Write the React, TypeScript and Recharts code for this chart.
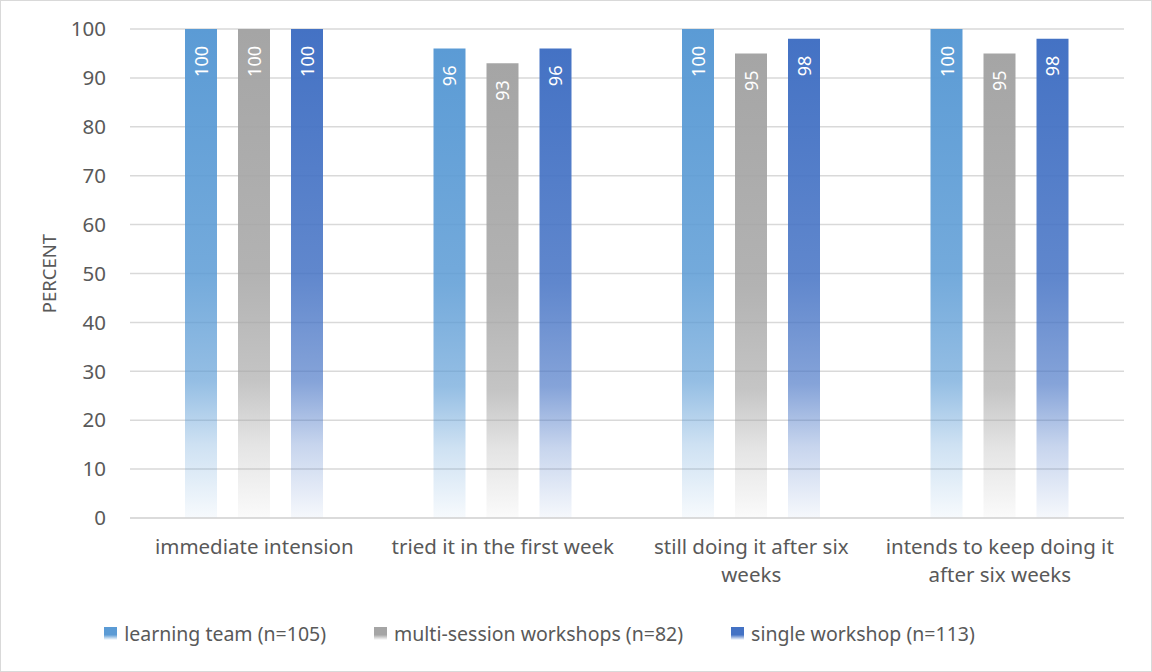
import React from 'react';
import { BarChart, Bar, XAxis, YAxis, CartesianGrid, Legend, LabelList } from 'recharts';

// --- Data ---
const categories = [
  'immediate intension',
  'tried it in the first week',
  'still doing it after six weeks',
  'intends to keep doing it after six weeks',
];
const learningTeam = [100, 96, 100, 100];
const multiSession = [100, 93, 95, 95];
const singleWorkshop = [100, 96, 98, 98];
const yTicks = [0, 10, 20, 30, 40, 50, 60, 70, 80, 90, 100];

const SERIES = [
  { key: 'learning', name: 'learning team (n=105)', color: '#5B9BD5' },
  { key: 'multi', name: 'multi-session workshops (n=82)', color: '#A5A5A5' },
  { key: 'single', name: 'single workshop (n=113)', color: '#4472C4' },
];

const data = categories.map((name, i) => ({
  name,
  learning: learningTeam[i],
  multi: multiSession[i],
  single: singleWorkshop[i],
}));

const FONT = '"Noto Sans", "Open Sans", sans-serif';
const TEXT_COLOR = '#595959';
const MAX_CHARS = 26;

// word wrap by character count
const wrapLabel = (label: string) => {
  const lines: string[] = [];
  let cur = '';
  label.split(' ').forEach((w) => {
    const next = cur ? `${cur} ${w}` : w;
    if (next.length > MAX_CHARS && cur) {
      lines.push(cur);
      cur = w;
    } else {
      cur = next;
    }
  });
  if (cur) lines.push(cur);
  return lines;
};

const BarLabel = (props: any) => {
  const { x, y, width, value } = props;
  const cx = x + width / 2;
  const ty = y + 17;
  return (
    <text
      x={cx}
      y={ty}
      transform={`rotate(-90 ${cx} ${ty})`}
      textAnchor="end"
      dominantBaseline="central"
      fill="#ffffff"
      fontSize={18}
      fontFamily={FONT}
    >
      {value}
    </text>
  );
};

const CategoryTick = (props: any) => {
  const { x, y, payload } = props;
  const lines = wrapLabel(payload.value);
  return (
    <text x={x} y={y} textAnchor="middle" fill={TEXT_COLOR} fontSize={20.5} fontFamily={FONT}>
      {lines.map((l, i) => (
        <tspan key={i} x={x} dy={i === 0 ? '0.71em' : 28}>
          {l}
        </tspan>
      ))}
    </text>
  );
};

const LegendContent = () => (
  <div style={{ height: 73, display: 'flex', justifyContent: 'center', alignItems: 'flex-start', paddingTop: 30, paddingRight: 56, boxSizing: 'border-box' }}>
    {SERIES.map((s) => (
      <div key={s.key} style={{ display: 'flex', alignItems: 'center', margin: '0 24px', fontFamily: FONT, fontSize: 19.5, color: TEXT_COLOR }}>
        <span
          style={{
            display: 'inline-block',
            width: 13,
            height: 13,
            marginRight: 7,
            background: `linear-gradient(to bottom, ${s.color} 0%, ${s.color} 60%, #ffffff 100%)`,
          }}
        />
        {s.name}
      </div>
    ))}
  </div>
);

const App: React.FC = () => (
  <div style={{ position: 'absolute', left: 0, top: 0, width: 1152, height: 672, background: '#fff', boxSizing: 'border-box', border: '1px solid #d9d9d9' }}>
    <BarChart
      width={1150}
      height={670}
      data={data}
      margin={{ top: 28, right: 27, left: 10, bottom: 8 }}
      barGap={21}
      barCategoryGap="22%"
      style={{ fontFamily: FONT }}
    >
      <defs>
        {SERIES.map((s) => (
          <linearGradient key={s.key} id={`grad-${s.key}`} x1="0" y1="0" x2="0" y2="1">
            <stop offset="0%" stopColor={s.color} stopOpacity={1} />
            <stop offset="50%" stopColor={s.color} stopOpacity={0.85} />
            <stop offset="72%" stopColor={s.color} stopOpacity={0.65} />
            <stop offset="85%" stopColor={s.color} stopOpacity={0.3} />
            <stop offset="100%" stopColor={s.color} stopOpacity={0.05} />
          </linearGradient>
        ))}
      </defs>
      <CartesianGrid vertical={false} stroke="#d9d9d9" strokeWidth={1.5} />
      <XAxis
        dataKey="name"
        axisLine={{ stroke: '#d9d9d9', strokeWidth: 1.5 }}
        tickLine={false}
        height={72}
        tickMargin={15}
        tick={<CategoryTick />}
        interval={0}
      />
      <YAxis
        domain={[0, 100]}
        ticks={yTicks}
        axisLine={false}
        tickLine={false}
        width={119}
        tickMargin={18}
        tick={{ fill: TEXT_COLOR, fontSize: 20.5, fontFamily: FONT }}
        label={{ value: 'PERCENT', angle: -90, position: 'insideLeft', offset: 38, fill: TEXT_COLOR, fontSize: 18.5, fontFamily: FONT, style: { textAnchor: 'middle' } }}
      />
      <Legend verticalAlign="bottom" content={<LegendContent />} />
      {SERIES.map((s) => (
        <Bar key={s.key} dataKey={s.key} name={s.name} fill={`url(#grad-${s.key})`} barSize={32} isAnimationActive={false}>
          <LabelList dataKey={s.key} content={<BarLabel />} />
        </Bar>
      ))}
    </BarChart>
  </div>
);

export default App;
